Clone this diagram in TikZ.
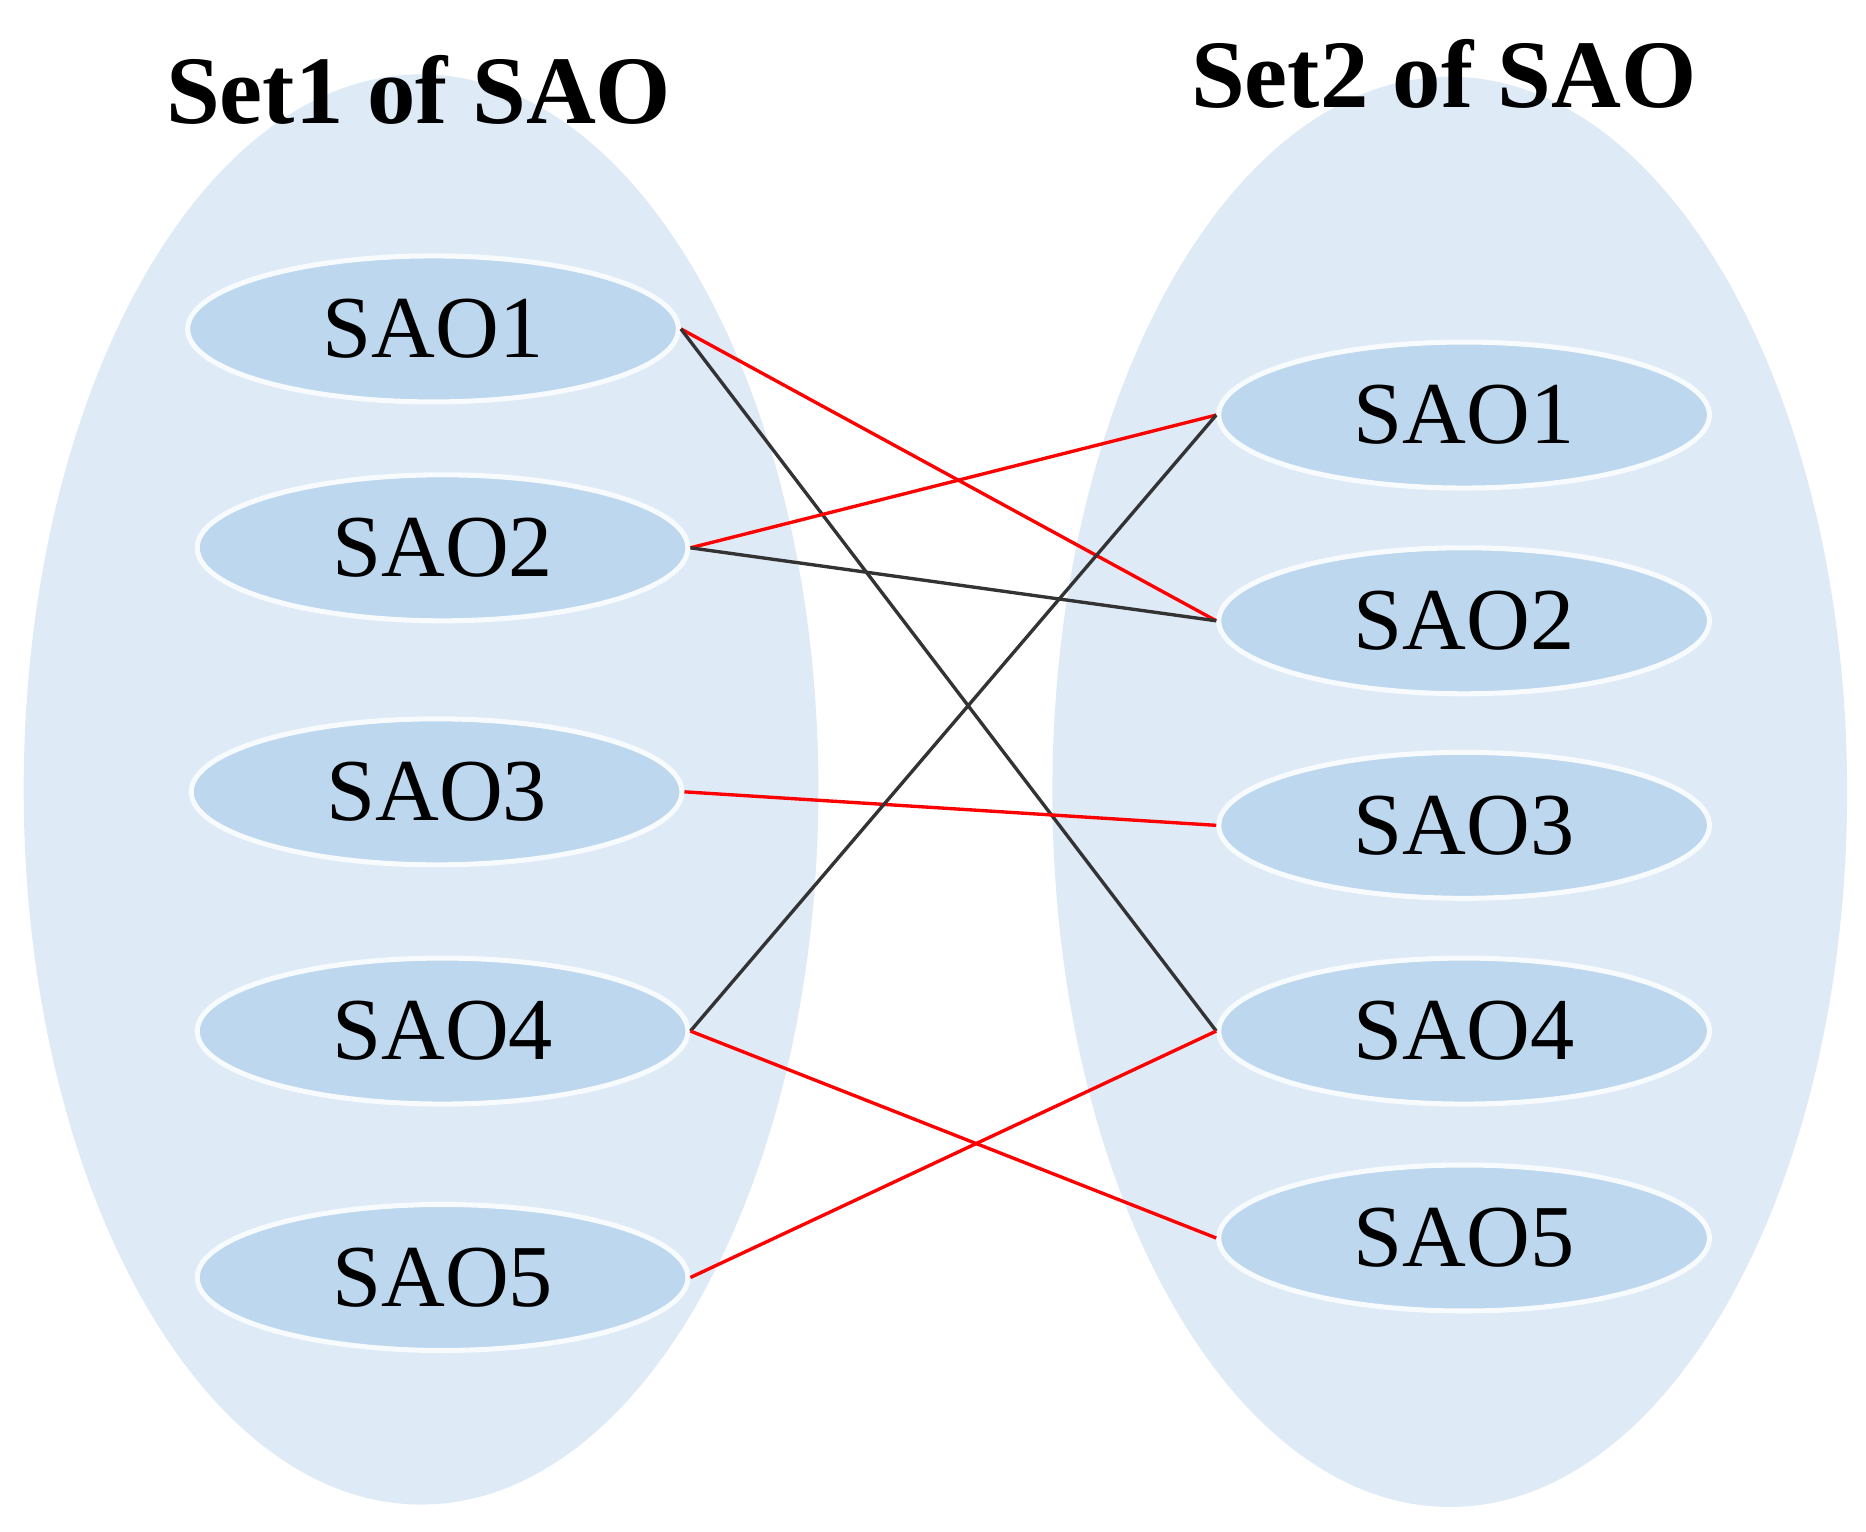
\documentclass[tikz,border=0pt]{standalone}
\usepackage{fontspec}
\setmainfont{Liberation Serif}
\usetikzlibrary{shapes.geometric}
\definecolor{bigc}{HTML}{DEEAF6}
\definecolor{smc}{HTML}{BDD7EE}
\begin{document}
\begin{tikzpicture}[x=0.01cm,y=-0.01cm,
  big/.style={ellipse,fill=bigc,minimum width=6.64cm,minimum height=11.95cm,inner sep=0pt},
  sm/.style={ellipse,fill=smc,draw=white!90!smc,line width=1.2pt,minimum width=4.1cm,minimum height=1.22cm,inner sep=0pt,font=\fontsize{21}{24}\selectfont},
  ttl/.style={font=\fontsize{23}{27}\selectfont\bfseries},
  rl/.style={red,line width=0.8pt},
  bl/.style={black!80,line width=0.8pt}]
\useasboundingbox (0,0) rectangle (1560,1280);
\node[big] (B1) at (352,660) {};
\node[big] (B2) at (1212,662) {};
\node[ttl] (T1) at (350,75) {Set1 of SAO};
\node[ttl] (T2) at (1207,62) {Set2 of SAO};
\foreach \i/\y/\x in {1/275/362,2/458/370,3/662/365,4/862/370,5/1068/370}
  \node[sm] (L\i) at (\x,\y) {SAO\i};
\foreach \i/\y in {1/347,2/519,3/690,4/862,5/1035}
  \node[sm] (R\i) at (1224,\y) {SAO\i};
\draw[rl] (L1.east) -- (R2.west);
\draw[bl] (L1.east) -- (R4.west);
\draw[rl] (L2.east) -- (R1.west);
\draw[bl] (L2.east) -- (R2.west);
\draw[rl] (L3.east) -- (R3.west);
\draw[bl] (L4.east) -- (R1.west);
\draw[rl] (L4.east) -- (R5.west);
\draw[rl] (L5.east) -- (R4.west);
\end{tikzpicture}
\end{document}
